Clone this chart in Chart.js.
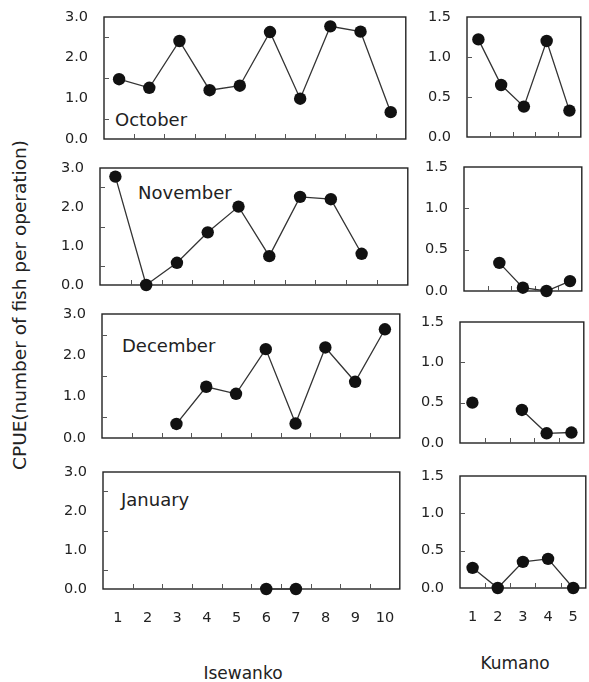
<!DOCTYPE html>
<html lang="en">
<head>
  <meta charset="UTF-8">
  <title>CPUE by month - Isewanko and Kumano</title>
  <script src="https://cdn.jsdelivr.net/npm/chart.js"></script>
  <style>
    body { margin: 0; background: #fff; width: 589px; height: 682px; overflow: hidden; position: relative; font-family: "DejaVu Sans", sans-serif; color: #222; }
    canvas { position: absolute; }
    .lbl { position: absolute; white-space: nowrap; line-height: 20px; }
    .month { font-size: 18px; }
    .place { font-size: 17px; transform: translateX(-50%); }
    .ytitle { font-size: 18.5px; transform: translate(-50%, -50%) rotate(-90deg); }
  </style>
</head>
<body>

  <!-- panel labels -->
  <div class="lbl month" style="left:115px; top:110px;">October</div>
  <div class="lbl month" style="left:138px; top:183px;">November</div>
  <div class="lbl month" style="left:122px; top:336px;">December</div>
  <div class="lbl month" style="left:121px; top:490px;">January</div>
  <div class="lbl place" style="left:243px; top:663px;">Isewanko</div>
  <div class="lbl place" style="left:515px; top:653px;">Kumano</div>
  <div class="lbl ytitle" style="left:20px; top:305px;">CPUE(number of fish per operation)</div>

  <script>
    // stations along each area
    const isewankoStations = ['1', '2', '3', '4', '5', '6', '7', '8', '9', '10'];
    const kumanoStations = ['1', '2', '3', '4', '5'];

    // CPUE (null = no operation)
    const isewankoOct = [1.47, 1.26, 2.41, 1.20, 1.31, 2.63, 0.99, 2.77, 2.64, 0.66];
    const isewankoNov = [2.78, 0, 0.57, 1.35, 2.01, 0.74, 2.26, 2.20, 0.80, null];
    const isewankoDec = [null, null, 0.34, 1.24, 1.07, 2.15, 0.35, 2.19, 1.36, 2.63];
    const isewankoJan = [null, null, null, null, null, 0, 0, null, null, null];

    const kumanoOct = [1.22, 0.65, 0.38, 1.20, 0.33];
    const kumanoNov = [null, 0.34, 0.04, 0, 0.12];
    const kumanoDec = [0.50, null, 0.41, 0.12, 0.13];
    const kumanoJan = [0.27, 0, 0.35, 0.39, 0];

    // y axis ticks
    const isewankoMax = 3.0, isewankoStep = 1.0;
    const kumanoMax = 1.5, kumanoStep = 0.5;
    const isewankoMinor = [0.5, 1.5, 2.5];
    const kumanoMinor = [0.5, 1.0];

    const YW = 40;   // y axis width
    const PT = 12;   // top padding
    const PR = 3;    // right padding

    // frame around the plot area plus small inward tick marks
    const framePlugin = {
      id: 'frame',
      beforeDatasetsDraw(chart, args, opts) {
        const { ctx, chartArea: a, scales: { x, y } } = chart;
        ctx.save();
        ctx.strokeStyle = '#222';
        ctx.lineWidth = 1.4;
        ctx.strokeRect(a.left, a.top, a.right - a.left, a.bottom - a.top);
        ctx.lineWidth = 1;
        ctx.strokeStyle = '#555';
        ctx.beginPath();
        const n = x.getLabels().length;
        for (let i = 1; i < n; i++) {
          const px = Math.round((x.getPixelForValue(i - 1) + x.getPixelForValue(i)) / 2) + 0.5;
          ctx.moveTo(px, a.bottom);
          ctx.lineTo(px, a.bottom - 5);
        }
        (opts.minor || []).forEach(v => {
          const py = Math.round(y.getPixelForValue(v)) + 0.5;
          ctx.moveTo(a.left, py);
          ctx.lineTo(a.left + 5, py);
        });
        ctx.stroke();
        ctx.restore();
      }
    };

    function makePanel(box, labels, data, max, step, minor, bottom) {
      const XH = bottom ? 45 : 12;
      const canvas = document.createElement('canvas');
      const w = box.r - box.l + YW + PR;
      const h = box.b - box.t + PT + XH;
      canvas.width = w;
      canvas.height = h;
      canvas.style.left = (box.l - YW) + 'px';
      canvas.style.top = (box.t - PT) + 'px';
      document.body.appendChild(canvas);

      return new Chart(canvas, {
        type: 'line',
        data: {
          labels: labels,
          datasets: [{
            data: data,
            borderColor: '#333',
            borderWidth: 1.3,
            pointBackgroundColor: '#111',
            pointBorderColor: '#111',
            pointRadius: 6.2,
            pointBorderWidth: 0,
            tension: 0,
            spanGaps: false,
            clip: false
          }]
        },
        options: {
          responsive: false,
          animation: false,
          layout: { padding: { top: PT, right: PR, left: 0, bottom: 0 } },
          plugins: {
            legend: { display: false },
            tooltip: { enabled: false },
            frame: { minor: minor }
          },
          scales: {
            x: {
              type: 'category',
              offset: true,
              // invisible tick length only pushes the labels down
              grid: { display: false, drawTicks: true, tickLength: 21 },
              border: { display: false },
              ticks: {
                display: bottom,
                padding: 0,
                color: '#222',
                font: { family: 'DejaVu Sans', size: 14.5 },
                maxRotation: 0
              },
              afterFit: s => { s.height = XH; }
            },
            y: {
              min: 0,
              max: max,
              grid: { display: false, drawTicks: true, tickLength: 16 },
              border: { display: false },
              ticks: {
                stepSize: step,
                padding: 0,
                color: '#222',
                font: { family: 'DejaVu Sans', size: 14.5 },
                callback: v => v.toFixed(1)
              },
              afterFit: s => { s.width = YW; }
            }
          }
        },
        plugins: [framePlugin]
      });
    }

    // plot areas of the eight panels
    makePanel({ l: 104, r: 409, t: 17, b: 139 }, isewankoStations, isewankoOct, isewankoMax, isewankoStep, isewankoMinor, false);
    makePanel({ l: 100, r: 411, t: 168, b: 285 }, isewankoStations, isewankoNov, isewankoMax, isewankoStep, isewankoMinor, false);
    makePanel({ l: 102, r: 403, t: 314, b: 438 }, isewankoStations, isewankoDec, isewankoMax, isewankoStep, isewankoMinor, false);
    makePanel({ l: 103, r: 403, t: 472, b: 589 }, isewankoStations, isewankoJan, isewankoMax, isewankoStep, isewankoMinor, true);

    makePanel({ l: 467, r: 584, t: 17, b: 137 }, kumanoStations, kumanoOct, kumanoMax, kumanoStep, kumanoMinor, false);
    makePanel({ l: 464, r: 585, t: 167, b: 291 }, kumanoStations, kumanoNov, kumanoMax, kumanoStep, kumanoMinor, false);
    makePanel({ l: 460, r: 587, t: 322, b: 443 }, kumanoStations, kumanoDec, kumanoMax, kumanoStep, kumanoMinor, false);
    makePanel({ l: 460, r: 589, t: 476, b: 588 }, kumanoStations, kumanoJan, kumanoMax, kumanoStep, kumanoMinor, true);
  </script>

</body>
</html>
